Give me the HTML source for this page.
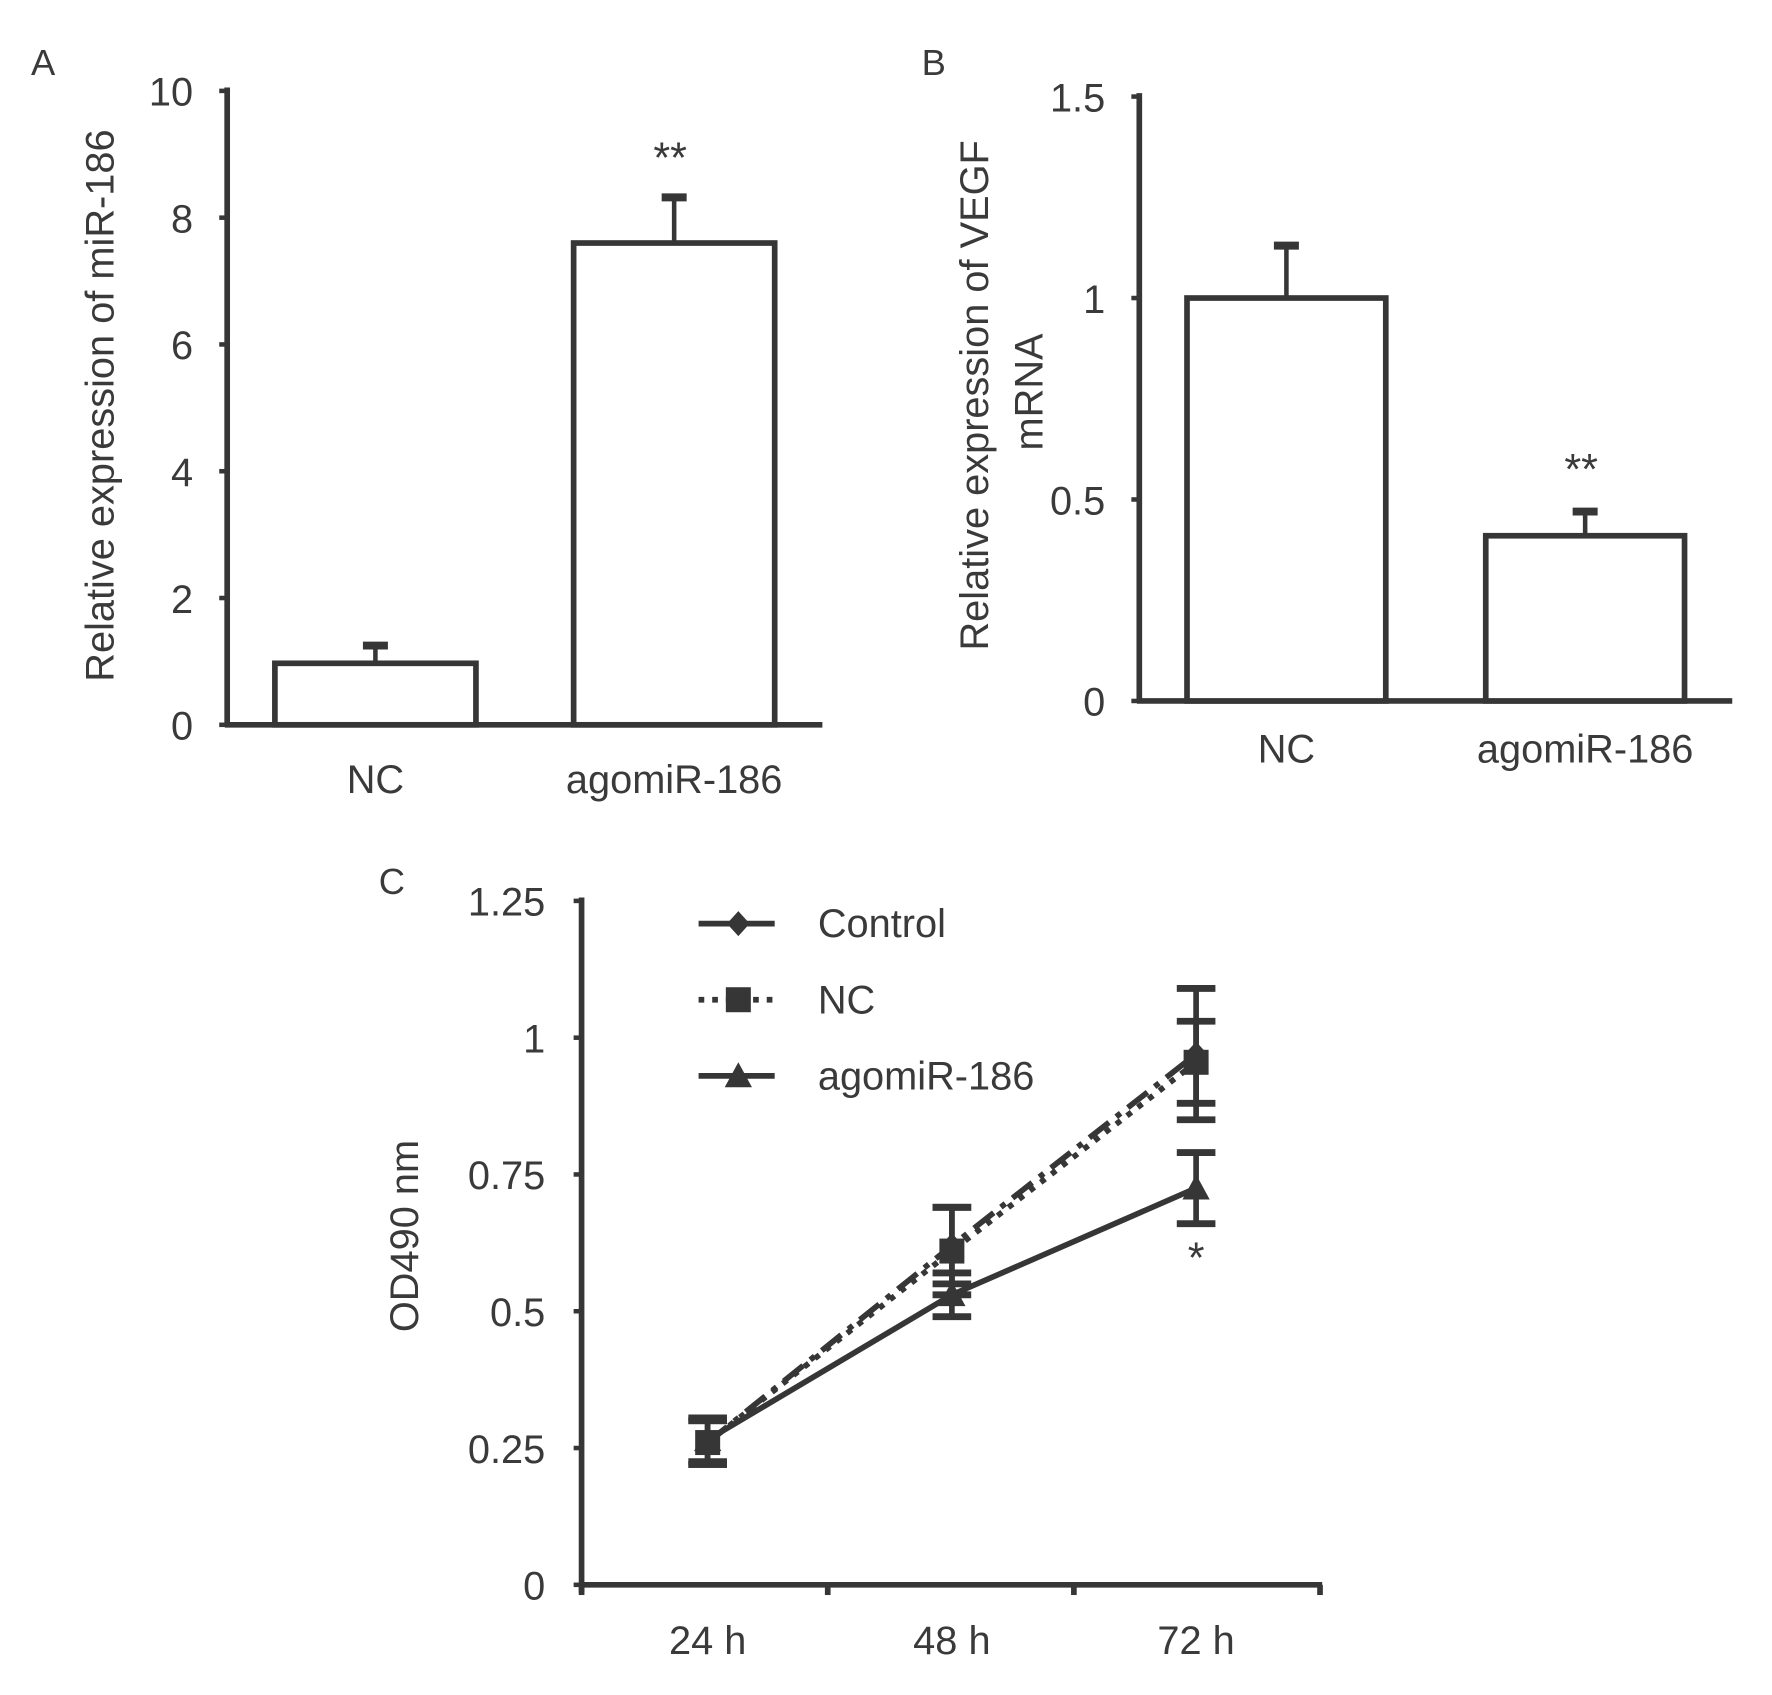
<!DOCTYPE html>
<html><head><meta charset="utf-8"><style>
html,body{margin:0;padding:0;background:#fff}
svg{display:block}
text{font-family:"Liberation Sans",sans-serif;fill:#3a3a3a}
</style></head><body>
<svg id="fig" width="1772" height="1695" viewBox="0 0 1560 1492" preserveAspectRatio="none" xmlns="http://www.w3.org/2000/svg">
<g id="pa"></g>
<g id="pb"></g>
<g id="pc"></g>
</svg>
<script>
const barCats = ["NC", "agomiR-186"];
const aVals = [0.97, 7.6];
const aErr = [0.28, 0.72];
const aTicks = [0, 2, 4, 6, 8, 10];
const bVals = [1.0, 0.41];
const bErr = [0.13, 0.06];
const bTicks = ["0", "0.5", "1", "1.5"];
const lineCats = ["24 h", "48 h", "72 h"];
const ctrlVals = [0.26, 0.62, 0.97];
const ctrlErr = [0.04, 0.07, 0.12];
const ncVals = [0.26, 0.61, 0.955];
const ncErr = [0.04, 0.08, 0.075];
const agoVals = [0.265, 0.53, 0.725];
const agoErr = [0.04, 0.04, 0.065];
const cTicks = ["0", "0.25", "0.5", "0.75", "1", "1.25"];
const C = "#363636";
const FS = 35;
const NS = "http://www.w3.org/2000/svg";
function el(p, tag, at, txt) {
  const e = document.createElementNS(NS, tag);
  for (const k in at) e.setAttribute(k, at[k]);
  if (txt !== undefined) e.textContent = txt;
  p.appendChild(e);
  return e;
}
function line(p, x1, y1, x2, y2, w, dash, name) {
  const l = el(p, "line", {x1, y1, x2, y2, stroke: C, "stroke-width": w || 5});
  if (dash) l.setAttribute("stroke-dasharray", dash);
  
  
  return l;
}
function txt(p, x, y, s, size, anchor, name, rot) {
  const t = el(p, "text", {x, y, "font-size": size, "text-anchor": anchor || "middle"}, s);
  if (rot) t.setAttribute("transform", "rotate(-90 " + x + " " + y + ")");
  
  
  return t;
}
function barPanel(g, o) {
  const y = v => o.y0 - (v - 0) / o.max * (o.y0 - o.yTop);
  line(g, o.ax, o.yTop - 3, o.ax, o.y0 + 2, 5, null, 'y-axis');
  line(g, o.ax - 2, o.y0, o.xEnd, o.y0, 5, null, 'x-axis');
  o.ticks.forEach(t => {
    const v = parseFloat(t);
    line(g, o.ax - 7, y(v), o.ax, y(v), 4, null, 'y-tick');
    txt(g, o.ax - 30, y(v) + 13, String(t), FS, "end", 'y-tick-label');
  });
  o.vals.forEach((v, i) => {
    const x0 = o.bx[i], w = o.bw;
    const r = el(g, "rect", {x: x0, y: y(v), width: w, height: o.y0 - y(v), fill: "#fff", stroke: C, "stroke-width": 5});
    
    
    const cx = x0 + w / 2;
    line(g, cx, y(v), cx, y(v + o.err[i]), 4, null, 'error-bar');
    line(g, cx - 11, y(v + o.err[i]), cx + 11, y(v + o.err[i]), 7, null, 'error-cap');
    txt(g, cx, o.labY, barCats[i], FS, "middle", 'x-label');
  });
}
const pa = document.getElementById("pa");
txt(pa, 38, 66, "A", 32, "middle", 'panel-label-a');
barPanel(pa, {ax: 200, y0: 638, yTop: 80, max: 10, xEnd: 724, ticks: aTicks, vals: aVals, err: aErr, bx: [242, 505], bw: 177, labY: 698});
txt(pa, 590, 152, "**", 38, "middle", 'significance-a');
txt(pa, 100, 357, "Relative expression of miR-186", FS, "middle", 'y-axis-title-a', true);

const pb = document.getElementById("pb");
txt(pb, 822, 66, "B", 32, "middle", 'panel-label-b');
barPanel(pb, {ax: 1003, y0: 617, yTop: 85, max: 1.5, xEnd: 1525, ticks: bTicks, vals: bVals, err: bErr, bx: [1045, 1308], bw: 175, labY: 671});
txt(pb, 1392, 426, "**", 38, "middle", 'significance-b');
txt(pb, 870, 348, "Relative expression of VEGF", FS, "middle", 'y-axis-title-b', true);
txt(pb, 918, 345, "mRNA", FS, "middle", 'y-axis-title-b-2', true);

const pc = document.getElementById("pc");
const cx0 = 512, cy0 = 1395, cyTop = 793;
const cy = v => cy0 - v / 1.25 * (cy0 - cyTop);
const cxPos = i => 623 + i * 215;
txt(pc, 345, 787, "C", 32, "middle", 'panel-label-c');
line(pc, cx0, cyTop - 3, cx0, cy0 + 7, 5, null, 'y-axis');
line(pc, cx0 - 2, cy0, 1164, cy0, 5, null, 'x-axis');
cTicks.forEach(t => {
  const v = parseFloat(t);
  line(pc, cx0 - 7, cy(v), cx0, cy(v), 4, null, 'y-tick');
  txt(pc, 480, cy(v) + 13, t, FS, "end", 'y-tick-label');
});
[0, 1, 2, 3].forEach(i => line(pc, cx0 + i * 216.7, cy0, cx0 + i * 216.7, cy0 + 9, 5, null, 'x-tick'));
lineCats.forEach((c, i) => txt(pc, cxPos(i), 1456, c, FS, "middle", 'x-label'));
txt(pc, 368, 1088, "OD490 nm", FS, "middle", 'y-axis-title-c', true);
function series(vals, err, dash, marker, name) {
  const g = el(pc, "g", {});
  
  
  const pts = vals.map((v, i) => cxPos(i) + "," + cy(v)).join(" ");
  const pl = el(g, "polyline", {points: pts, fill: "none", stroke: C, "stroke-width": 5});
  if (dash) pl.setAttribute("stroke-dasharray", dash);
  
  
  vals.forEach((v, i) => {
    const x = cxPos(i);
    line(g, x, cy(v - err[i]), x, cy(v + err[i]), 5, null, 'error-bar');
    line(g, x - 17, cy(v + err[i]), x + 17, cy(v + err[i]), 6, null, 'error-cap');
    line(g, x - 17, cy(v - err[i]), x + 17, cy(v - err[i]), 6, null, 'error-cap');
    marker(g, x, cy(v));
  });
}
const diamond = (g, x, y) => { const m = el(g, "polygon", {points: `${x},${y-11} ${x+10},${y} ${x},${y+11} ${x-10},${y}`, fill: C});   };
const square = (g, x, y) => { const m = el(g, "rect", {x: x - 11, y: y - 11, width: 22, height: 22, fill: C});   };
const tri = (g, x, y) => { const m = el(g, "polygon", {points: `${x},${y-12} ${x+12},${y+10} ${x-12},${y+10}`, fill: C});   };
series(agoVals, agoErr, null, tri, 'agomir-186');
series(ctrlVals, ctrlErr, "22 8 5 8", diamond, 'control');
series(ncVals, ncErr, "5 7", square, 'nc');
txt(pc, 1053, 1120, "*", 38, "middle", 'significance-c');
const leg = [["Control", "22 8 5 8", diamond], ["NC", "5 7", square], ["agomiR-186", null, tri]];
leg.forEach((L, i) => {
  const g = el(pc, "g", {});
  
  
  const yy = 813 + i * 67;
  line(g, 615, yy, 682, yy, 5, L[0] === "NC" ? "5 7" : null, 'legend-line');
  L[2](g, 650, yy);
  txt(g, 720, yy + 12, L[0], FS, "start", 'legend-label');
});
</script>
</body></html>
